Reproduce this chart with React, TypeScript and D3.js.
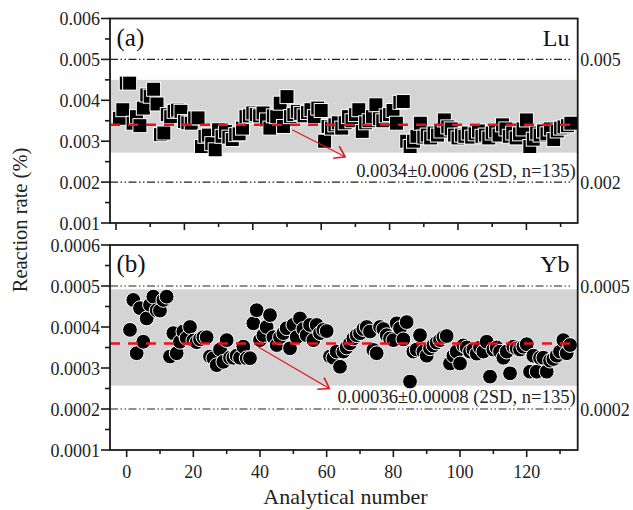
import React from "react";
import * as d3 from "d3";

// ---------- data ----------
const luValues: number[] = [
  0.00356, 0.00377, 0.00442, 0.00442, 0.00344, 0.0036, 0.00338, 0.00381, 0.00413, 0.0041,
  0.00427, 0.00391, 0.00316, 0.0032, 0.00365, 0.0036, 0.00373, 0.00376, 0.00373, 0.00348,
  0.00345, 0.00344, 0.00357, 0.00357, 0.00287, 0.00312, 0.00315, 0.00294, 0.00279, 0.00328,
  0.00312, 0.00324, 0.0031, 0.00304, 0.00316, 0.00318, 0.00332, 0.0036, 0.00362, 0.00369,
  0.00365, 0.00362, 0.00369, 0.00352, 0.00332, 0.00362, 0.0036, 0.00393, 0.00336, 0.00409,
  0.0036, 0.00365, 0.00373, 0.00368, 0.00362, 0.0037, 0.00377, 0.0036, 0.00381, 0.00375,
  0.003, 0.00336, 0.00332, 0.0034, 0.00345, 0.00332, 0.00345, 0.0036, 0.0035, 0.00365,
  0.00377, 0.00324, 0.00345, 0.0035, 0.0036, 0.00389, 0.00355, 0.0035, 0.00362, 0.00365,
  0.00375, 0.00344, 0.00395, 0.00397, 0.003, 0.00287, 0.003, 0.00312, 0.00344, 0.0031,
  0.00315, 0.00308, 0.0032, 0.00315, 0.00325, 0.00352, 0.00335, 0.0033, 0.00315, 0.00308,
  0.00315, 0.00312, 0.0032, 0.0031, 0.00318, 0.00325, 0.00312, 0.00315, 0.00308, 0.0032,
  0.00325, 0.00315, 0.0034, 0.0033, 0.00312, 0.0032, 0.00308, 0.00318, 0.0033, 0.00352,
  0.00287, 0.00305, 0.0032, 0.00315, 0.00325, 0.00318, 0.0033, 0.00304, 0.00325, 0.00332,
  0.00335, 0.00338, 0.00344,
];

const ybValues: number[] = [
  0.000393, 0.000466, 0.000336, 0.000446, 0.000364, 0.000421, 0.000454, 0.000474, 0.000441, 0.00044,
  0.000466, 0.000474, 0.000328, 0.000385, 0.000336, 0.000364, 0.000389, 0.000373, 0.0004, 0.000367,
  0.000363, 0.00037, 0.000375, 0.000375, 0.000328, 0.000324, 0.000307, 0.000345, 0.000315, 0.000368,
  0.000325, 0.000325, 0.00033, 0.000325, 0.000352, 0.000324, 0.000324, 0.000409, 0.000441, 0.000368,
  0.00038, 0.0004, 0.000429, 0.000375, 0.000356, 0.000375, 0.000385, 0.000397, 0.000348, 0.000405,
  0.000375, 0.000421, 0.000395, 0.00038, 0.000405, 0.000368, 0.000405, 0.000385, 0.000393, 0.00039,
  0.000328, 0.000325, 0.00034, 0.000303, 0.00034, 0.00035, 0.00036, 0.000372, 0.00038, 0.000385,
  0.000395, 0.0004, 0.000389, 0.000344, 0.000336, 0.0004, 0.000395, 0.00038, 0.000372, 0.000368,
  0.000409, 0.000397, 0.00037, 0.000412, 0.000267, 0.00034, 0.000345, 0.00038, 0.00034, 0.00033,
  0.000348, 0.000355, 0.000362, 0.000368, 0.000375, 0.000378, 0.000311, 0.00033, 0.00034, 0.000311,
  0.000355, 0.00035, 0.00034, 0.000345, 0.000335, 0.00035, 0.00034, 0.000364, 0.000279, 0.000345,
  0.00035, 0.00034, 0.000325, 0.00034, 0.000287, 0.000352, 0.000348, 0.000345, 0.000352, 0.000358,
  0.000291, 0.00033, 0.000291, 0.000325, 0.000325, 0.000291, 0.000318, 0.000322, 0.00033, 0.00034,
  0.000368, 0.000336, 0.000356,
];

const xTickValues = [0, 20, 40, 60, 80, 100, 120];
const xMinorTicks = [10, 30, 50, 70, 90, 110, 130];

const luYTicks = [0.001, 0.002, 0.003, 0.004, 0.005, 0.006];
const luRightTicks = [0.002, 0.005];
const luMean = 0.0034;
const luBand = [0.00272, 0.0045];
const luLabel = "0.0034\u00B10.0006 (2SD, n=135)";

const ybYTicks = [0.0001, 0.0002, 0.0003, 0.0004, 0.0005, 0.0006];
const ybRightTicks = [0.0002, 0.0005];
const ybMean = 0.00036;
const ybBand = [0.000257, 0.000492];
const ybLabel = "0.00036\u00B10.00008 (2SD, n=135)";

const FONT = '"Liberation Serif", "DejaVu Serif", serif';
const RED = "#e3171b";
const AXIS = "#1a1a1a";

type PanelProps = {
  top: number;
  bottom: number;
  xDomain: [number, number];
  yDomain: [number, number];
  values: number[];
  shape: "square" | "circle";
  yTicks: number[];
  rightTicks: number[];
  fmt: (n: number) => string;
  mean: number;
  band: number[];
  label: string;
  letter: string;
  element: string;
  arrowFrom: [number, number];
  arrowTo: [number, number];
  labelBaseline: number;
  showXLabels: boolean;
};

const LEFT = 110;
const RIGHT = 577.7;

function Panel(p: PanelProps) {
  const x = d3.scaleLinear().domain(p.xDomain).range([LEFT, RIGHT]);
  const y = d3.scaleLinear().domain(p.yDomain).range([p.bottom, p.top]);
  const step = p.yTicks[1] - p.yTicks[0];
  const minorY = p.yTicks.slice(0, -1).map((t) => t + step / 2);

  const [ax, ay] = [x(p.arrowFrom[0]), y(p.arrowFrom[1])];
  const [bx, by] = [x(p.arrowTo[0]), y(p.arrowTo[1])];
  const ang = Math.atan2(by - ay, bx - ax);
  const hl = 12;
  const ha = (34 * Math.PI) / 180;
  const h1 = [bx - hl * Math.cos(ang - ha), by - hl * Math.sin(ang - ha)];
  const h2 = [bx - hl * Math.cos(ang + ha), by - hl * Math.sin(ang + ha)];

  return (
    <g>
      <rect
        x={LEFT}
        width={RIGHT - LEFT}
        y={y(p.band[1])}
        height={y(p.band[0]) - y(p.band[1])}
        fill="#d4d4d4"
      />
      {p.rightTicks.map((t) => (
        <line
          key={"r" + t}
          x1={LEFT}
          x2={RIGHT - 6}
          y1={y(t)}
          y2={y(t)}
          stroke="#222"
          strokeWidth={1.2}
          strokeDasharray="8,2.5,1.5,2.5,1.5,2.5"
        />
      ))}
      {p.values.map((v, i) =>
        p.shape === "square" ? (
          <rect
            key={i}
            x={x(i + 1) - 7}
            y={y(v) - 7}
            width={14}
            height={14}
            fill="#000"
            stroke="#fff"
            strokeWidth={1}
          />
        ) : (
          <circle key={i} cx={x(i + 1)} cy={y(v)} r={7.4} fill="#000" stroke="#fff" strokeWidth={1} />
        )
      )}
      <line
        x1={LEFT}
        x2={RIGHT}
        y1={y(p.mean)}
        y2={y(p.mean)}
        stroke={RED}
        strokeWidth={2.5}
        strokeDasharray="10,8"
      />
      <line x1={ax} y1={ay} x2={bx} y2={by} stroke={RED} strokeWidth={1.2} />
      <path
        d={`M${h1[0]},${h1[1]} L${bx},${by} L${h2[0]},${h2[1]}`}
        fill="none"
        stroke={RED}
        strokeWidth={1.6}
      />
      <text x={RIGHT - 2} y={p.labelBaseline} textAnchor="end" fontSize={18.6} fill="#222">
        {p.label}
      </text>
      <text x={116.5} y={p.top + 27} fontSize={25} fill="#111">
        {p.letter}
      </text>
      <text x={569.5} y={p.top + 27} textAnchor="end" fontSize={24} fill="#111">
        {p.element}
      </text>
      <rect
        x={LEFT}
        y={p.top}
        width={RIGHT - LEFT}
        height={p.bottom - p.top}
        fill="none"
        stroke={AXIS}
        strokeWidth={1.8}
      />
      {p.yTicks.map((t) => (
        <g key={"yt" + t}>
          <line x1={LEFT - 9} x2={LEFT} y1={y(t)} y2={y(t)} stroke={AXIS} strokeWidth={1.6} />
          <text x={LEFT - 10} y={y(t) + 6.5} textAnchor="end" fontSize={18} fill="#222">
            {p.fmt(t)}
          </text>
        </g>
      ))}
      {minorY.map((t) => (
        <line key={"ym" + t} x1={LEFT - 5} x2={LEFT} y1={y(t)} y2={y(t)} stroke={AXIS} strokeWidth={1.6} />
      ))}
      {p.rightTicks.map((t) => (
        <text key={"rt" + t} x={RIGHT + 2.5} y={y(t) + 6.5} fontSize={18} fill="#222">
          {p.fmt(t)}
        </text>
      ))}
      {xTickValues.map((t) => (
        <g key={"xt" + t}>
          <line x1={x(t)} x2={x(t)} y1={p.bottom} y2={p.bottom + 7} stroke={AXIS} strokeWidth={1.6} />
          {p.showXLabels && (
            <text x={x(t)} y={p.bottom + 28} textAnchor="middle" fontSize={18} fill="#222">
              {t}
            </text>
          )}
        </g>
      ))}
      {xMinorTicks.map((t) => (
        <line key={"xm" + t} x1={x(t)} x2={x(t)} y1={p.bottom} y2={p.bottom + 4} stroke={AXIS} strokeWidth={1.6} />
      ))}
    </g>
  );
}

export default function App() {
  return (
    <svg
      width={633}
      height={510}
      viewBox="0 0 633 510"
      style={{ position: "fixed", left: 0, top: 0, background: "#fff", fontFamily: FONT }}
    >
      <rect width={633} height={510} fill="#fff" />
      <Panel
        top={18.5}
        bottom={223}
        xDomain={[-1.75, 135]}
        yDomain={[0.001, 0.006]}
        values={luValues}
        shape="square"
        yTicks={luYTicks}
        rightTicks={luRightTicks}
        fmt={d3.format(".3f")}
        mean={luMean}
        band={luBand}
        label={luLabel}
        letter="(a)"
        element="Lu"
        arrowFrom={[51.5, 0.00328]}
        arrowTo={[67, 0.00262]}
        labelBaseline={176.5}
        showXLabels={false}
      />
      <Panel
        top={245}
        bottom={450}
        xDomain={[-5, 135.3]}
        yDomain={[0.0001, 0.0006]}
        values={ybValues}
        shape="circle"
        yTicks={ybYTicks}
        rightTicks={ybRightTicks}
        fmt={d3.format(".4f")}
        mean={ybMean}
        band={ybBand}
        label={ybLabel}
        letter="(b)"
        element="Yb"
        arrowFrom={[39.5, 0.000351]}
        arrowTo={[60.8, 0.00025]}
        labelBaseline={403}
        showXLabels={true}
      />
      <text transform="translate(26.5,220) rotate(-90)" textAnchor="middle" fontSize={20.5} fill="#222">
        Reaction rate (%)
      </text>
      <text x={345.5} y={503.5} textAnchor="middle" fontSize={22} fill="#222">
        Analytical number
      </text>
    </svg>
  );
}
